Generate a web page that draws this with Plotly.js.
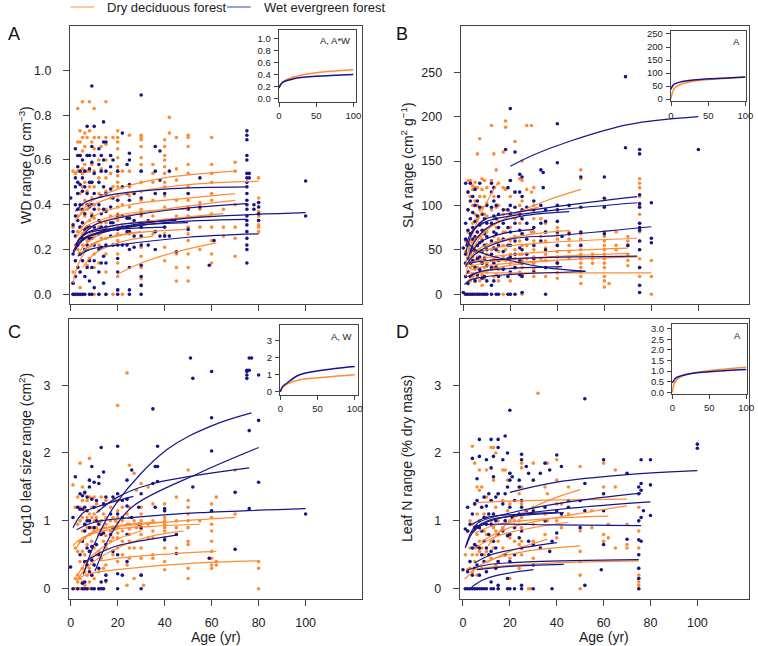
<!DOCTYPE html>
<html><head><meta charset="utf-8">
<script src="https://cdn.plot.ly/plotly-3.0.1.min.js"></script>
<style>html,body{margin:0;padding:0;background:#fff}#chart{width:758px;height:646px}</style>
</head><body><div id="chart"></div>
<script>
const DRY = '#ff8c33', WET = '#16168c';
const legendLabels = ['Dry deciduous forest', 'Wet evergreen forest'];
const panelLetters = ['A', 'B', 'C', 'D'];
const yTitles = ['WD range (g cm<sup>\u22123</sup>)', 'SLA range (cm<sup>2</sup> g<sup>\u22121</sup>)',
  'Log10 leaf size range (cm<sup>2</sup>)', 'Leaf N range (% dry mass)'];
const xTitle = 'Age (yr)';
const insetLabels = ['A, A*W', 'A', 'A, W', 'A'];
const ageTicks = [0, 20, 40, 60, 80, 100];
const insetAgeTicks = [0, 50, 100];
const wdTicks = [0, 0.2, 0.4, 0.6, 0.8, 1.0];
const slaTicks = [0, 50, 100, 150, 200, 250];
const lsTicks = [0, 1, 2, 3];
const lnTicks = [0, 1, 2, 3];
const wdInsetTicks = [0, 0.2, 0.4, 0.6, 0.8, 1.0];
const slaInsetTicks = [0, 50, 100, 150, 200, 250];
const lsInsetTicks = [0, 1, 2, 3];
const lnInsetTicks = [0, 0.5, 1.0, 1.5, 2.0, 2.5, 3.0];

// ---------- Panel A: wood density range (age, [values]) ----------
const wdDry = [
 [1,[.55,.30,.10,.05,0]],[2,[.54,.40,.22,.15,0]],[3,[.83,.68,.55,.45,.35,.28,.2,.12,0]],
 [4,[.73,.68,.62,.55,.45,.38,.3,.25,.18,.1,.03]],[5,[.86,.70,.64,.56,.54,.48,.40,.32,.27,.22,.15,0]],
 [6,[.72,.66,.58,.55,.50,.42,.35,.28,.20]],[7,[.70,.62,.55,.46,.38,.30,.24,.13]],
 [8,[.86,.73,.62,.55,.48,.40,.33,.25,.16]],[9,[.68,.58,.50,.43,.36,.28,.22]],
 [10,[.83,.70,.65,.55,.48,.40,.34,.26,.18,.12,0]],[12,[.70,.60,.52,.45,.38,.30,.22,.14,0]],
 [13,[.66,.56,.44,.32,.25]],[15,[.86,.70,.67,.60,.52,.46,.38,.32,.25,.18,.1,0]],[17,[.62,.54,.43,.35]],
 [18,[.70,.48,0]],[20,[.73,.70,.68,.65,.61,.57,.55,.53,.50,.48,.44,.42,.39,.36,.33,.30,.27,.24,.18,.14,.08,.02]],
 [22,[.55,.40,0]],[25,[.71,.55,.48,.44,.39,.35,.27]],
 [30,[.71,.70,.69,.66,.61,.58,.55,.50,.46,.42,.38,.35,.30,.26,.21,.17,.12,.07,.04]],
 [35,[.58,.54,.50,.42,.35,.27]],[40,[.69,.66,.62,.60,.57,.54,.50,.48,.44,.39,.33,.27,.21,.15]],
 [42,[.79,.72]],[45,[.70,.56,.51,.42,.35,.18,.12,.06]],
 [50,[.71,.70,.66,.58,.54,.48,.45,.42,.39,.35,.30,.27,.24,.18,.12,.06]],[55,[.41,.38,.30,.20]],
 [60,[.70,.58,.54,.50,.45,.42,.36,.30,.24,.18,.14]],[65,[.38,.30,.26]],[70,[.59,.55,.40,.30,.25,.17]],
 [80,[.52,.43,.41,.39,.37,.35,.33,.31,.30,.28]]
];
const wdWet = [
 [0,[.43]],[1,[.31,.28,.18,.05,0]],[2,[.65,.52,.48,.40,.35,.26,.15,.08,0]],[3,[.62,.57,.50,.45,.38,.33,.22,.12,0]],
 [4,[.62,.55,.49,.40,.30,.18,.1,0]],[5,[.60,.52,.46,.38,.32,.25,.15,0]],[6,[.55,.48,.36,.29,.20,.08,0]],
 [7,[.75,.62,.45,.40,.30,.22,.12]],[8,[.62,.56,.50,.39,.30,.25,.15,.06,0]],[9,[.93,.66,.59,.50,.40,.35,.25,.12,0]],
 [10,[.75,.62,.54,.45,.38,.30,.22,.15,.03]],[12,[.65,.58,.50,.40,.33,.27,.2,.1,0]],[13,[.62,.55,.44,.36,.30,.21,.14]],
 [14,[.77,.68,.60,.48,.38,.29,.17,.05]],[15,[.68,.55,.45,.37,.30,.22,.14,0]],[17,[.62,.57,.47,.39,.32,.26]],
 [18,[.60,.43,.32,.22]],[20,[.55,.42,.35,.29,.22,.16,.10,.02,0]],[22,[.72,.48,.35,.30,.22]],
 [24,[.58,.45,.34,.28,.22]],[25,[.63,.60,.49,.42,.34,.28,.2,.12,.02,0]],[27,[.45,.33,.26,.21]],
 [30,[.89,.55,.43,.36,.30,.26,.22,.13,.08,.04,0]],[33,[.33,.22]],[36,[.66,.55,.45,.28,.2]],[38,[.64,.51,.26]],
 [40,[.45,.30,.26]],[42,[.55,.26]],[45,[.19]],[50,[.45,.38,.29]],[55,[.52,.39]],[59,[.13]],[61,[.24]],
 [75,[.73,.71,.69,.62,.60,.54,.52,.50,.48,.45,.42,.40,.38,.35,.33,.31,.28,.25,.22,.20,.14]],
 [76,[.54,.52]],[78,[.38,.40]],[80,[.41,.39,.36,.33]],[100,[.506,.35]]
];
const wdDryCurves = [
 [[3,.34],[8,.41],[20,.47],[40,.52],[70,.55]],[[2,.33],[8,.39],[20,.44],[50,.49],[80,.505]],
 [[4,.29],[10,.35],[25,.40],[50,.43],[70,.45]],[[2,.22],[6,.28],[15,.33],[40,.38],[70,.42]],
 [[3,.18],[7,.23],[15,.28],[40,.33],[60,.35]],[[1,.05],[3,.13],[7,.20],[15,.25],[30,.28]],
 [[20,.09],[30,.14],[45,.19],[62,.23]],[[4,.18],[10,.23],[25,.27],[49,.29]],
 [[2,.25],[6,.30],[15,.34],[30,.37],[50,.38]],[[3,.22],[8,.27],[20,.31],[45,.34],[65,.36]],
 [[5,.12],[10,.18],[20,.23],[35,.26]]
];
const wdWetCurves = [
 [[2,.37],[6,.41],[15,.44],[40,.47],[75,.48]],[[1,.18],[4,.23],[10,.27],[40,.33],[100,.365]],
 [[2,.20],[6,.25],[15,.28],[40,.32],[75,.335]],[[3,.17],[8,.20],[20,.22],[50,.255],[80,.27]],
 [[2,.22],[6,.27],[15,.29],[30,.31],[50,.32]],[[5,.26],[10,.31],[20,.34],[45,.38],[75,.405]],
 [[1,.19],[4,.24],[10,.27],[20,.29],[40,.30]],[[3,.24],[8,.28],[20,.31],[45,.33]]
];

// ---------- Panel B: SLA range ----------
const slaDry = [
 [1,[60,48,35,20,0]],[2,[128,115,95,70,55,40,25,12,0]],[3,[128,125,110,85,60,45,30,15,0]],
 [4,[122,118,100,80,70,58,42,32,20,0]],[5,[126,120,105,90,75,62,50,38,28,15]],
 [6,[158,120,100,85,70,55,42,30,20,0]],[7,[175,110,95,80,65,50,38,27,15]],[8,[130,118,98,80,62,48,35,22,10]],
 [9,[128,110,90,72,55,42,30,18,0]],[10,[120,102,88,70,56,45,35,25,0]],[12,[190,128,95,80,60,50,38,28]],
 [13,[158,110,85,65,52,40,30,20]],[14,[140,98,75,58,42,32,22]],[15,[125,100,82,62,48,38,28,15]],
 [17,[160,120,90,70,55,42,30,0]],[18,[195,188,118,95,70,50,38]],[20,[128,110,92,75,60,45,35,25,15,0]],
 [22,[172,115,85,65,50,40,30]],[24,[130,100,80,60,45,35,25]],[25,[150,128,105,85,68,55,45,38,30,22,0]],
 [27,[190,118,80,55,40]],[29,[190,115,95,70]],[30,[120,100,85,70,60,50,42,35,28,20]],[33,[85,65,40]],
 [35,[80,70,60,52,45,38,30,20]],[40,[75,68,62,55,48,42,36,30,24,18]],[45,[70,62,55,48,40]],
 [50,[140,130,68,62,55,50,45,40,35,30,25,20,12]],[55,[45,40,35]],[60,[70,65,60,55,50,45,40,35,30,20,15,8]],
 [62,[12]],[65,[70,55,50]],[70,[65,60,55,45,38,32]],[75,[130,125,120,110,100,90,80,70,60,50,40,30,20]],
 [80,[38,20,0]]
];
const slaWet = [
 [0,[52,2]],[1,[125,80,62,45,35,20,0]],[2,[115,95,72,55,40,25,12,0]],[3,[125,105,85,68,50,35,20,0]],
 [4,[110,92,75,62,52,38,22,0]],[5,[118,100,82,65,48,30,15,0]],[6,[105,88,70,55,40,22,0]],
 [7,[125,98,78,58,42,28,0]],[8,[90,72,60,48,35,18,0]],[9,[85,68,55,40,20,0]],[10,[100,80,65,50,32,15,0]],
 [12,[125,115,98,80,60,45,30,10,0]],[13,[120,105,88,70,52,35,15]],[14,[100,85,68,50,30,0]],
 [15,[110,90,75,55,38,20,0]],[17,[95,80,62,48,28]],[18,[163]],[19,[120,95,75,55,40,20,0]],
 [20,[209,128,100,90,70,55,42,25,0]],[22,[160,115,98,80,60,45,30,0]],[24,[135,115,90,72,52,38,22]],
 [25,[132,110,95,85,68,50,35,20,2]],[27,[98,80,62,45]],[30,[105,95,75,55,40,25]],[33,[140,100,80,60]],
 [34,[137,120]],[35,[95,82,70,50,30,0]],[40,[192,148,100,95,82,70,55,35]],[42,[65]],[45,[100,68]],
 [50,[132,98,70,55]],[60,[132,108,98,68]],[69,[245,165]],[70,[55]],
 [75,[163,158,112,102,98,80,75,72,60,50,30,10,2]],[80,[103,63,58]],[100,[163]]
];
const slaDryCurves = [
 [[1,31],[3,61],[6,82],[9,99],[15,127]],[[2,46],[6,65],[20,88],[35,105],[50,118]],
 [[1,20],[4,50],[10,72],[20,88],[32,98]],[[5,46],[15,53],[35,58],[74,63]],
 [[3,35],[10,41],[30,47],[70,52]],[[3,31],[10,36],[30,41],[70,46]],[[3,27],[10,32],[30,37],[74,42]],
 [[2,24],[20,24],[50,24],[80,24]],[[1,12],[5,22],[15,30],[30,36],[40,38]],[[2,38],[6,50],[15,60],[30,68],[45,72]]
];
const slaWetCurves = [
 [[20,144],[30,157],[45,172],[70,191],[100,200]],[[1,46],[4,70],[9,84],[20,91],[40,99],[74,110]],
 [[1,54],[4,72],[10,82],[20,88],[40,95],[74,103]],[[2,39],[5,60],[12,78],[25,88],[45,93]],
 [[3,46],[8,60],[18,69],[30,73]],[[1,31],[5,45],[20,62],[40,66],[80,76]],[[3,35],[10,38],[30,41],[74,43]],
 [[1,63],[5,50],[20,38],[35,30],[52,26]],[[0.5,11],[3,16],[10,20],[25,23],[52,25.6]],[[2,20],[8,26],[20,29],[42,31]]
];

// ---------- Panel C: log10 leaf size range ----------
const lsDry = [
 [1,[1.53]],[2,[1.2,.6,.15,0]],[3,[1.35,.95,.55,.2,.1,0]],[4,[1.85,1.2,1.0,.7,.4,.15,0]],
 [5,[1.5,1.3,1.05,.85,.55,.3,.1,0]],[6,[1.4,1.15,.95,.75,.5,.25,.05]],[7,[1.3,1.05,.9,.65,.4,.2,0]],
 [8,[1.92,1.35,1.1,1.0,.8,.55,.3,.1,0]],[9,[1.2,1.05,.9,.7,.45,.2]],[10,[1.35,1.1,1.0,.85,.6,.35,.15,0]],
 [11,[1.25,1.05,.9,.5]],[12,[1.15,.98,.8,.55,.25,0]],[13,[1.35,1.0,.85,.45]],[14,[1.1,.9,.7,.3,0]],
 [15,[1.3,1.05,.95,.78,.6,.35,.1]],[17,[1.2,1.0,.85,.7]],[18,[1.05,.9,.75,.5]],[19,[1.3,1.0,.88]],
 [20,[2.7,1.3,1.15,1.05,.98,.9,.82,.75,.6,.4]],[22,[1.2,1.0,.85,.7,.5]],[24,[3.18,1.1,.95,.35,.05]],
 [25,[1.82,1.2,1.05,.95,.88,.8,.7,.6,.45]],[27,[1.7,1.0,.6,.15]],[28,[1.45,.9]],
 [30,[1.55,1.2,1.1,1.0,.95,.88,.8,.6,.45,.2]],[31,[.05]],[33,[1.5,.95,.75]],[35,[1.25,1.0,.85,.75,.5,.45]],
 [40,[1.25,1.15,1.05,1.0,.95,.9,.85,.75,.6,.4,.28]],[45,[1.35,1.0,.9,.6]],
 [50,[1.75,1.3,1.2,1.1,1.0,.9,.7,.65,.3,.15]],[55,[1.0]],[60,[1.25,1.15,1.05,.95,.85,.7,.55,.45,.35,.3]],
 [62,[1.35,.4,.35]],[70,[1.75,1.1]],[80,[.4,.3,0]]
];
const lsWet = [
 [0,[.32]],[1,[1.05,0]],[2,[1.65]],[3,[1.2,0]],[4,[1.4,1.17,.5]],[5,[1.37,1.17,.7,.08,0]],
 [6,[1.42,1.2,.95,.85,.4,.1,0]],[7,[1.35,1.15,1.0,.6,.35,0]],[8,[1.6,1.5,1.0,.9,.55,.25]],
 [9,[1.8,1.32,.62,.42,.2,0]],[10,[1.57,1.2,.9,.35,0]],[11,[1.3,1.0,.65]],[12,[1.65,1.55,.95,.5,.3,0]],
 [13,[2.08,.8,.1,0]],[14,[1.72,1.25,.82,0]],[15,[1.35,.65,.2,.12]],[17,[1.1,.8]],[18,[1.35,.9,.55]],
 [20,[2.1,1.4,1.1,.5,.22,0]],[22,[1.3,1.05,.2]],[24,[1.6,1.32,1.22,.8,.4]],[26,[1.75,1.05]],[29,[1.2,.95]],
 [30,[1.4,.9,.2,0]],[35,[2.65,1.55]],[36,[1.8,1.2]],[37,[2.1,1.8,1.58]],[40,[1.18,1.15,.72]],[45,[.52,.8]],
 [51,[3.4]],[52,[3.1,1.5]],[59,[.45]],[60,[3.2,2.52,2.03,1.15]],[70,[1.42,.58]],[75,[3.22,3.2,3.15,3.1]],
 [76,[3.4,3.22,2.33,1.18]],[77,[3.4]],[80,[3.15,2.48,1.57]],[100,[1.1]]
];
const lsDryCurves = [
 [[2,.58],[6,.75],[12.5,.87],[41,.98],[70,1.05]],[[1,.63],[5,.75],[15,.86],[35,.92],[55,.95]],
 [[3,.65],[10,.85],[25,.95],[40,.98]],[[12.5,.41],[25,.47],[45,.52],[62,.55]],
 [[2.5,.14],[8,.22],[19.6,.28],[50,.37],[80,.41]],[[2.5,.11],[8,.35],[20,.6],[35,.78],[48,.85]],
 [[3,.2],[8,.45],[18,.7],[30,.85]]
];
const lsWetCurves = [
 [[5.4,.21],[10,.65],[19.6,1.27],[41,2.05],[60,2.4],[77,2.59]],[[10.4,.26],[18,.85],[26.7,1.22],[55,1.71],[80,2.08]],
 [[1,.9],[5.4,1.12],[12.5,1.22],[26.7,1.36]],[[11,1.12],[20,1.35],[34,1.54],[76,1.78]],
 [[2.6,.87],[10,.98],[27,1.05],[55,1.12],[100,1.18]],[[5.4,.38],[12,.52],[19.6,.63],[45,.79]]
];

// ---------- Panel D: leaf N range ----------
const lnDry = [
 [1,[.5,0]],[2,[.85,.28]],[3,[1.0,.6,.3]],[4,[2.1,.95,.5,.25]],[5,[1.85,1.25,.9,.6,.4,0]],
 [6,[1.5,1.1,.8,.5,.2]],[7,[1.75,1.45,1.0,.7,.55]],[8,[1.5,1.2,.95,.6,.3]],[9,[1.1,.85,.5]],
 [10,[1.75,1.35,1.05,.8,.55,.25]],[12,[2.08,1.3,1.0,.7,.45]],[13,[2.08,1.6,.9,.6]],[14,[2.0,1.2,.85,.35]],
 [15,[1.4,1.0,.7,.4,0]],[17,[1.75,1.3,.9,.6]],[18,[1.75,1.0,.5]],[19,[1.6,1.15,.8]],
 [20,[1.7,1.25,1.0,.75,.45,.15]],[22,[1.3,1.0,.7]],[24,[1.4,1.0,.65,.3]],[25,[1.85,1.78,1.5,1.25,1.05,.9,.7,.5]],
 [28,[0,1.1]],[29,[0]],[30,[1.85,1.2,.95,.7,.45]],[32,[2.88]],[35,[1.5,1.1,.8]],[36,[1.85,1.4,1.0]],
 [40,[1.9,1.6,1.25,1.0,.75]],[42,[1.25,.9]],[45,[1.5,1.1]],[50,[1.8,1.3,.85,.55,.4,.2,0]],[55,[1.15,.9]],
 [60,[1.85,1.5,.8,.7]],[62,[.95,.75]],[65,[1.75,1.5,.6]],[70,[.95,.65,.6]],[75,[1.2,.85,.6,.2,.15,.1,.05,0]]
];
const lnWet = [
 [0,[.28]],[1,[.88,0]],[2,[1.2,.85,.25,0]],[3,[.95,.4,0]],[4,[1.92,1.1,.6,.2,0]],[5,[1.25,.9,.65,.3,0]],
 [6,[1.62,1.3,.92,.62,.35,0]],[7,[2.2,1.95,.9,.6,.2,0]],[8,[1.2,.85,.5,0]],[9,[1.35,1.05,.7,.4,0]],
 [10,[1.9,1.22,.95,.6,.25,0]],[11,[1.4,1.1,.8,.5]],[12,[2.2,1.78,1.3,.95,.55,.1,0]],[13,[1.95,1.65,1.1,.7,0]],
 [14,[1.35,1.0,.6,.3]],[15,[2.2,2.08,1.4,.8,.4,.05,0]],[17,[1.9,1.25,.85]],[18,[2.25,1.4,1.0,.5]],
 [19,[2.0,1.5,.78,.15,0]],[20,[2.63,1.7,1.6,1.2,.8,.4,0]],[21,[1.65,1.05]],[22,[1.3,.9,.5,0]],
 [24,[1.6,1.5,1.1,.75]],[25,[1.98,1.9,1.3,1.2,.85,.6,.05,0]],[27,[1.8,1.15]],[28,[1.7,.7]],
 [30,[1.6,1.15,.65,.35,0]],[33,[1.7,.6]],[35,[1.85,1.2,1.0]],[37,[1.75,.55]],[38,[0,.7]],[40,[1.97,1.15,.82]],
 [42,[1.8,1.1]],[45,[1.2,1.3]],[50,[1.3,.9]],[52,[2.8,1.55,1.15,.05]],[59,[.28]],[60,[1.9,1.4,1.15,.65]],
 [70,[1.7,.73]],[75,[1.5,1.4,1.0,.72,.5,.3,.15,0]],[76,[1.9,1.55,1.45,1.05,.7]],[77,[1.15]],
 [80,[1.9,1.53,1.08]],[100,[2.13,2.07]]
];
const lnDryCurves = [
 [[10.7,.63],[20,1.0],[35,1.28],[50,1.46]],[[6,1.27],[20,1.29],[45,1.31],[70,1.32]],
 [[5,.82],[15,.95],[35,1.03],[62,1.07]],[[8,.7],[20,.9],[40,1.05],[70,1.22]],
 [[0.7,.14],[10,.4],[25,.54],[50,.63]],[[3.6,.28],[15,.33],[40,.38],[75,.41]],
 [[10,.38],[20,.55],[36,.73]],[[5,.6],[15,.78],[30,.9],[45,.98]]
];
const lnWetCurves = [
 [[20,1.42],[40,1.57],[70,1.68],[100,1.74]],[[1,.6],[3,.8],[6.4,.97],[20.6,1.12],[45,1.28],[76,1.41]],
 [[1.4,.63],[4,.82],[10,.98],[25,1.1],[50,1.2],[80,1.28]],[[3.6,.82],[7,.93],[13.5,.95],[40,.94],[76,.93]],
 [[5,.9],[12,1.02],[25,1.08],[43,1.12]],[[4,.95],[10,1.05],[25,1.1],[40,1.12]],
 [[2,.28],[10,.35],[30,.40],[75,.43]],[[6,.28],[20,.33],[43,.36]],
 [[3.6,.02],[8,.12],[15,.2],[30,.28]],[[5,.38],[12,.5],[25,.6],[40,.68]]
];

// ---------- Insets: overall model fits ----------
const insetDry = [
 [[0,.17],[2,.23],[5,.28],[20,.36],[50,.43],[100,.48]],
 [[0,3],[2,25],[5,42],[12,55],[30,68],[60,77],[100,84]],
 [[0,0],[3,.25],[9,.45],[26,.7],[71,.9],[100,1.0]],
 [[0,0],[1,.2],[3,.45],[10,.7],[25,.88],[50,1.02],[100,1.18]]
];
const insetWet = [
 [[0,.18],[2,.23],[5,.27],[20,.33],[50,.37],[100,.40]],
 [[0,38],[2,50],[5,58],[12,65],[30,73],[60,79],[100,85]],
 [[0,0],[3,.3],[8.6,.5],[26,1.0],[71,1.35],[100,1.49]],
 [[0,.45],[2,.55],[5,.68],[20,.85],[50,.97],[100,1.07]]
];

// ---------- build ----------
const W = 758, H = 646;
const fx = p => p / W, fy = p => 1 - p / H;
function expand(groups) {
  const x = [], y = [];
  groups.forEach(g => g[1].forEach(v => { x.push(g[0]); y.push(v); }));
  return {x, y};
}
const FONT = '"Liberation Sans", Arial, Helvetica, sans-serif';
const traces = [];
const layout = {
  width: W, height: H, margin: {l: 0, r: 0, t: 0, b: 0},
  paper_bgcolor: '#fff', plot_bgcolor: 'rgba(0,0,0,0)', showlegend: false,
  font: {family: FONT, color: '#222', size: 12},
  annotations: [], shapes: []
};
function ax(i) { return i === 1 ? '' : String(i); }
function addAxes(i, xdom, ydom, xr, yr, xt, yt, xlabels, yfmt, inset) {
  const base = {
    showline: true, mirror: true, linecolor: '#444', linewidth: 1,
    ticks: 'outside', tickcolor: '#444', tickwidth: 1, ticklen: inset ? 4 : 6,
    showgrid: false, zeroline: false, fixedrange: true,
    tickfont: {family: FONT, size: inset ? 9.5 : 12.5, color: '#222'}
  };
  layout['xaxis' + ax(i)] = Object.assign({}, base, {
    domain: xdom, range: xr, tickmode: 'array', tickvals: xt, showticklabels: xlabels,
    anchor: 'y' + ax(i), ticklabelstandoff: inset ? 1 : 6
  });
  layout['yaxis' + ax(i)] = Object.assign({}, base, {
    domain: ydom, range: yr, tickmode: 'array', tickvals: yt, tickformat: yfmt,
    anchor: 'x' + ax(i), ticklabelstandoff: inset ? 1 : 9
  });
}
// main panels (pixel boxes measured from reference)
const mainBoxes = [
  {x: [70, 362], y: [26, 304], xr: [-0.3, 124], yr: [-0.043, 1.198], yt: wdTicks, fmt: '.1f', lab: false},
  {x: [460.7, 748.7], y: [26, 304], xr: [-1.1, 121.4], yr: [-11, 302], yt: slaTicks, fmt: '', lab: false},
  {x: [69, 362], y: [319.3, 598.7], xr: [-0.7, 124], yr: [-0.147, 3.97], yt: lsTicks, fmt: '', lab: true},
  {x: [459.7, 748.7], y: [319.3, 598.7], xr: [-1.4, 121.9], yr: [-0.147, 3.97], yt: lnTicks, fmt: '', lab: true}
];
const insetBoxes = [
  {x: [278.7, 355.7], y: [30, 102], xr: [-0.4, 103.2], yr: [-0.055, 1.137], yt: wdInsetTicks, fmt: '.1f'},
  {x: [670.7, 746], y: [31, 101.3], xr: [-0.4, 100.9], yr: [-8.8, 261.5], yt: slaInsetTicks, fmt: ''},
  {x: [280, 358], y: [325, 395], xr: [-0.4, 104.4], yr: [-0.19, 3.92], yt: lsInsetTicks, fmt: ''},
  {x: [672, 747], y: [324, 394], xr: [-0.4, 101], yr: [-0.08, 3.22], yt: lnInsetTicks, fmt: '.1f'}
];
const dryPts = [wdDry, slaDry, lsDry, lnDry];
const wetPts = [wdWet, slaWet, lsWet, lnWet];
const dryCurves = [wdDryCurves, slaDryCurves, lsDryCurves, lnDryCurves];
const wetCurves = [wdWetCurves, slaWetCurves, lsWetCurves, lnWetCurves];

mainBoxes.forEach((b, k) => {
  const i = k + 1;
  addAxes(i, [fx(b.x[0]), fx(b.x[1])], [fy(b.y[1]), fy(b.y[0])], b.xr, b.yr, ageTicks, b.yt, b.lab, b.fmt, false);
  const xa = 'x' + ax(i), ya = 'y' + ax(i);
  const d = expand(dryPts[k]), w = expand(wetPts[k]);
  traces.push({type: 'scatter', mode: 'markers', x: d.x, y: d.y, xaxis: xa, yaxis: ya,
    marker: {color: DRY, size: 3.6, line: {width: 0}}, hoverinfo: 'skip'});
  traces.push({type: 'scatter', mode: 'markers', x: w.x, y: w.y, xaxis: xa, yaxis: ya,
    marker: {color: WET, size: 3.6, line: {width: 0}}, hoverinfo: 'skip'});
  dryCurves[k].forEach(c => traces.push({type: 'scatter', mode: 'lines', x: c.map(p => p[0]), y: c.map(p => p[1]),
    xaxis: xa, yaxis: ya, line: {color: DRY, width: 1.2, shape: 'spline', smoothing: 1}, hoverinfo: 'skip'}));
  wetCurves[k].forEach(c => traces.push({type: 'scatter', mode: 'lines', x: c.map(p => p[0]), y: c.map(p => p[1]),
    xaxis: xa, yaxis: ya, line: {color: WET, width: 1.2, shape: 'spline', smoothing: 1}, hoverinfo: 'skip'}));
  layout.annotations.push({xref: 'paper', yref: 'paper', x: fx(k % 2 === 0 ? 6 : 394), y: fy(k < 2 ? 34 : 332),
    xanchor: 'left', yanchor: 'middle', text: panelLetters[k], showarrow: false,
    font: {family: FONT, size: 18, color: '#111'}});
  layout.annotations.push({xref: 'paper', yref: 'paper', x: fx(k % 2 === 0 ? 25 : 407), y: fy((b.y[0] + b.y[1]) / 2),
    xanchor: 'center', yanchor: 'middle', textangle: -90, text: yTitles[k], showarrow: false,
    font: {family: FONT, size: 14, color: '#222'}});
  if (b.lab) {
    layout.annotations.push({xref: 'paper', yref: 'paper', x: fx((b.x[0] + b.x[1]) / 2), y: fy(637),
      xanchor: 'center', yanchor: 'middle', text: xTitle, showarrow: false,
      font: {family: FONT, size: 14, color: '#222'}});
  }
});
insetBoxes.forEach((b, k) => {
  const i = k + 5;
  addAxes(i, [fx(b.x[0]), fx(b.x[1])], [fy(b.y[1]), fy(b.y[0])], b.xr, b.yr, insetAgeTicks, b.yt, true, b.fmt, true);
  const xa = 'x' + i, ya = 'y' + i;
  traces.push({type: 'scatter', mode: 'lines', x: insetDry[k].map(p => p[0]), y: insetDry[k].map(p => p[1]),
    xaxis: xa, yaxis: ya, line: {color: DRY, width: 1.5, shape: 'spline', smoothing: 1}, hoverinfo: 'skip'});
  traces.push({type: 'scatter', mode: 'lines', x: insetWet[k].map(p => p[0]), y: insetWet[k].map(p => p[1]),
    xaxis: xa, yaxis: ya, line: {color: WET, width: 1.5, shape: 'spline', smoothing: 1}, hoverinfo: 'skip'});
  layout.annotations.push({xref: 'paper', yref: 'paper', x: fx(b.x[1] - 4), y: fy(b.y[0] + 11),
    xanchor: 'right', yanchor: 'middle', text: insetLabels[k], showarrow: false,
    font: {family: FONT, size: 9.5, color: '#222'}});
});
// top legend
layout.shapes.push({type: 'line', xref: 'paper', yref: 'paper', x0: fx(70.7), x1: fx(94), y0: fy(7), y1: fy(7),
  line: {color: '#ffb27a', width: 1.5}});
layout.shapes.push({type: 'line', xref: 'paper', yref: 'paper', x0: fx(227), x1: fx(250.7), y0: fy(7), y1: fy(7),
  line: {color: '#7b7bd4', width: 1.5}});
layout.annotations.push({xref: 'paper', yref: 'paper', x: fx(105), y: fy(7.5), xanchor: 'left', yanchor: 'middle',
  text: legendLabels[0], showarrow: false, font: {family: FONT, size: 13, color: '#222'}});
layout.annotations.push({xref: 'paper', yref: 'paper', x: fx(262), y: fy(7.5), xanchor: 'left', yanchor: 'middle',
  text: legendLabels[1], showarrow: false, font: {family: FONT, size: 13, color: '#222'}});

Plotly.newPlot('chart', traces, layout, {staticPlot: true, displayModeBar: false});
</script></body></html>
